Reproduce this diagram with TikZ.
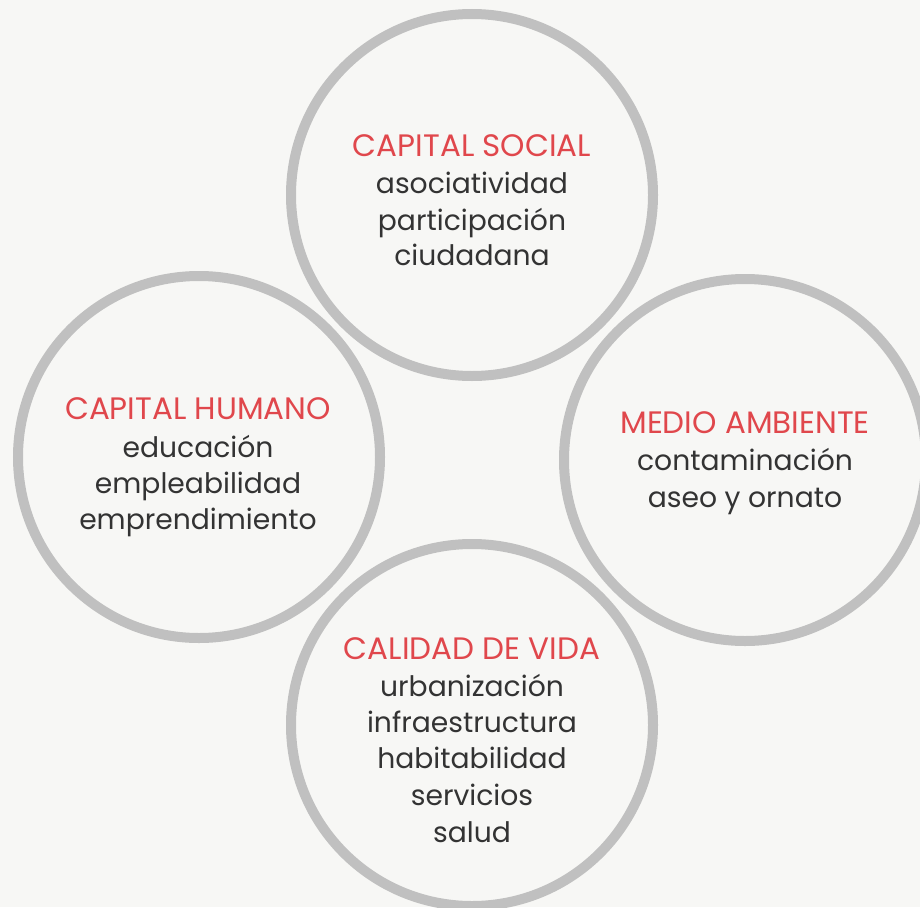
\documentclass[tikz,border=0pt]{standalone}
\usepackage{fontspec}
\setmainfont{Poppins}
\definecolor{bg}{HTML}{F7F7F5}
\definecolor{ring}{HTML}{C0C0C0}
\definecolor{ttl}{HTML}{E0474C}
\definecolor{txt}{HTML}{333333}
\begin{document}
\begin{tikzpicture}[x=1pt,y=-1pt,
  ringc/.style={circle,draw=ring,line width=10pt,minimum size=362pt,inner sep=0pt},
  titl/.style={anchor=base,inner sep=0pt,text=ttl,font=\fontsize{31}{36}\selectfont},
  body/.style={anchor=base,inner sep=0pt,text=txt,font=\fontsize{28.2}{36}\selectfont}]
\fill[bg] (0,0) rectangle (920,907);
\useasboundingbox (0,0) rectangle (920,907);
\begin{scope}
\clip (0,0) rectangle (920,907);
\node[ringc] (ctop) at (472,195) {};
\node[ringc] (cleft) at (199,457) {};
\node[ringc] (cright) at (745,460) {};
\node[ringc] (cbot) at (472,725) {};
\end{scope}
% top
\node[titl] (ts) at (472,156) {CAPITAL SOCIAL};
\node[body] (t1) at (472,193) {asociatividad};
\node[body] (t2) at (472,230) {participación};
\node[body] (t3) at (472,265) {ciudadana};
% left
\node[titl] (ls) at (198,419) {CAPITAL HUMANO};
\node[body] (l1) at (198,457) {educación};
\node[body] (l2) at (198,493) {empleabilidad};
\node[body] (l3) at (198,529) {emprendimiento};
% right
\node[titl] (rs) at (745,433) {MEDIO AMBIENTE};
\node[body] (r1) at (745,470) {contaminación};
\node[body] (r2) at (745,507) {aseo y ornato};
% bottom
\node[titl] (bs) at (472,659) {CALIDAD DE VIDA};
\node[body] (b1) at (472,696) {urbanización};
\node[body] (b2) at (472,732) {infraestructura};
\node[body] (b3) at (472,768) {habitabilidad};
\node[body] (b4) at (472,805) {servicios};
\node[body] (b5) at (472,842) {salud};
\end{tikzpicture}
\end{document}
